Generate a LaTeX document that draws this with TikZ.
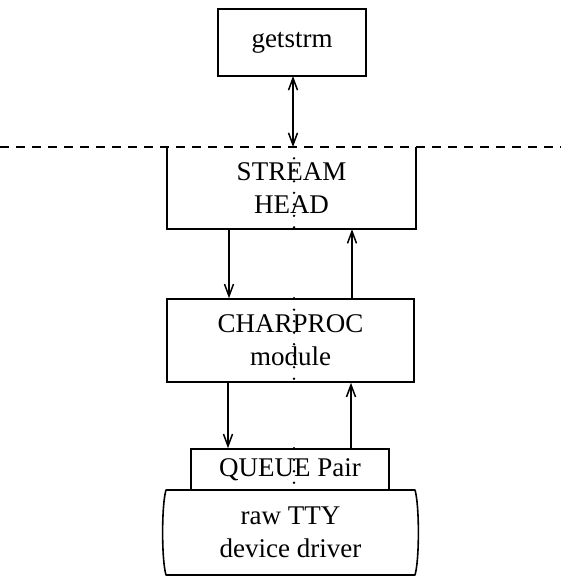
\documentclass[tikz,border=0pt]{standalone}
\usepackage{fontspec}
\setmainfont{Liberation Serif}
\usetikzlibrary{arrows.meta,calc}
\begin{document}
\begin{tikzpicture}[x=1pt,y=-1pt,
  box/.style={draw,line width=1.6pt,inner sep=0pt,align=center,font=\fontsize{27}{33}\selectfont},
  plain/.style={inner sep=0pt,align=center,font=\fontsize{27}{33}\selectfont},
  tip/.style={Straight Barb[length=12pt,width=9pt,line width=1.5pt]},
  flow/.style={line width=1.5pt,-{Straight Barb[length=12pt,width=9pt,line width=1.5pt]}},
  dots/.style={line width=2.6pt,line cap=round,dash pattern=on 0pt off 11.5pt}]
\useasboundingbox (0,0) rectangle (561,578);
\node[box,minimum width=148pt,minimum height=67pt] (gs) at (292,42.5) {getstrm};
\node[plain,minimum width=249pt,minimum height=82pt] (sh) at (291.5,188) {STREAM\\HEAD};
\draw[line width=1.6pt] (sh.north west) -- (sh.south west) -- (sh.south east) -- (sh.north east);
\node[box,minimum width=247pt,minimum height=83pt] (cp) at (290.5,340.5) {CHARPROC\\module};
\node[box,minimum width=198pt,minimum height=41pt] (qp) at (290,469.5) {QUEUE Pair};
\node[plain,minimum width=253pt,minimum height=85pt] (tty) at (290.5,532.5) {raw TTY\\device driver};
\draw[line width=1.6pt,line join=round]
  (166,490) -- (415,490) .. controls (419.5,505) and (419.5,560) .. (415,575)
  -- (166,575) .. controls (161.5,560) and (161.5,505) .. (166,490) -- cycle;
% dashed boundary
\coordinate (dl) at (0,147);
\coordinate (dr) at (561,147);
\draw[line width=1.6pt,dash pattern=on 9pt off 7pt] (dl) -- (dr);
% double arrow
\coordinate (gsb) at (293,76);
\coordinate (gse) at (293,147);
\draw[line width=1.6pt,{Straight Barb[length=12pt,width=9pt,line width=1.5pt]}-{Straight Barb[length=12pt,width=9pt,line width=1.5pt]}] (gsb) -- (gse);
% flows
\draw[flow] (sh.south -| 229,0) -- (cp.north -| 229,0);
\draw[flow] (cp.north -| 352,0) -- (sh.south -| 352,0);
\draw[flow] (cp.south -| 228,0) -- (qp.north -| 228,0);
\draw[flow] (qp.north -| 351,0) -- (cp.south -| 351,0);
% dotted center lines
\draw[dots] (sh.north -| 294,0) -- (sh.south -| 294,0);
\draw[dots] (cp.north -| 294,0) -- (cp.south -| 294,0);
\draw[dots] (qp.north -| 294,0) -- (qp.south -| 294,0);
\end{tikzpicture}
\end{document}
